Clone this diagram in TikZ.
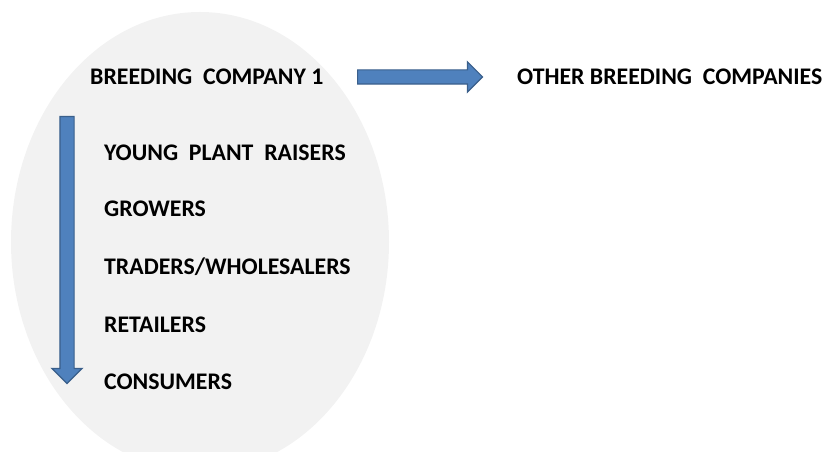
\documentclass[tikz,border=0pt]{standalone}
\usepackage{fontspec}
\setmainfont{Carlito}
\usetikzlibrary{arrows, positioning, shapes.arrows}

\begin{document}
\begin{tikzpicture}[x=1pt, y=1pt]
				\tikzstyle{Label} = [anchor=west, inner sep=0pt, font=\fontsize{23.8}{28}\selectfont\bfseries, text=black]
				\tikzstyle{blockarrow} = [single arrow, draw=arrowedge, fill=arrowblue, line width=1.2pt, inner xsep=0pt, inner ysep=6.5pt, single arrow head extend=8pt, single arrow head indent=0pt]
				\definecolor{arrowblue}{HTML}{4F81BD}
				\definecolor{arrowedge}{HTML}{3A5F8B}
				\definecolor{ovalgray}{HTML}{F2F2F2}
				
				\useasboundingbox (0, 0) rectangle (828, 452);
				\clip (0, 0) rectangle (828, 452);
				\fill [ovalgray] (200, 210) ellipse [x radius=189, y radius=230];
				
				\node (company) [Label] at (90, 375) {BREEDING\ \ COMPANY 1};
				\node (others) [Label] at (517, 375) {OTHER BREEDING\ \ COMPANIES};
				\node (raisers) [Label] at (104, 299) {YOUNG\ \ PLANT\ \ RAISERS};
				\node (growers) [Label] at (104, 243) {GROWERS};
				\node (traders) [Label] at (104, 185) {TRADERS/WHOLESALERS};
				\node (retailers) [Label] at (104, 127) {RETAILERS};
				\node (consumers) [Label] at (104, 70) {CONSUMERS};
				
				% block arrows
				\node (spread) [blockarrow, minimum height=125pt, anchor=tail] at (357, 375) {};
				\node (chain) [blockarrow, minimum height=267pt, shape border rotate=270, inner xsep=6.5pt, inner ysep=0pt, anchor=tail] at (67, 336) {};
			\end{tikzpicture}
\end{document}
